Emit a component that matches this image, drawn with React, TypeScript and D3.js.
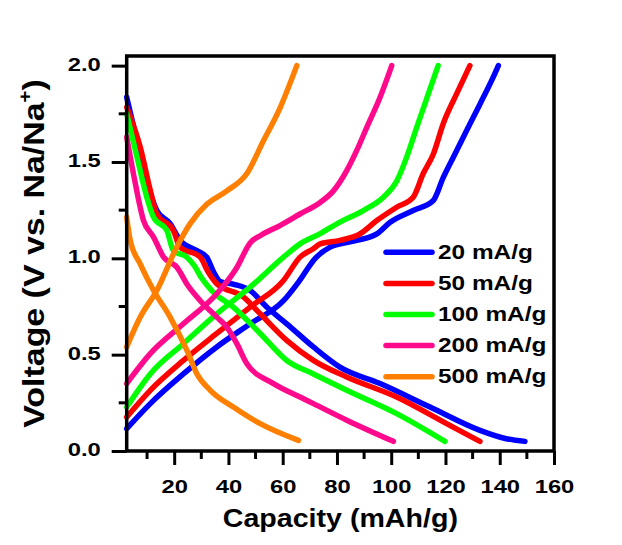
import { useEffect, useRef } from 'react';
import * as d3 from 'd3';

// capacity (mAh/g), voltage (V) pairs
const discharge20 = [[2.5, 1.836], [6.3, 1.61], [9.9, 1.4], [13.6, 1.248], [18.5, 1.18], [22.2, 1.093], [28.4, 1.04], [32, 1.006], [34.5, 0.93], [37, 0.88], [42, 0.865], [48, 0.833], [54.1, 0.747], [61.5, 0.66], [71.3, 0.54], [81.1, 0.435], [95.9, 0.35], [114.3, 0.228], [132.7, 0.107], [142, 0.065], [149.3, 0.05]];
const charge20 = [[2.5, 0.116], [11.2, 0.246], [23.4, 0.4], [35.7, 0.54], [48, 0.66], [60.3, 0.78], [66, 0.88], [72, 1.0], [77.5, 1.058], [87.3, 1.093], [94.7, 1.127], [99.6, 1.187], [108.1, 1.248], [115.5, 1.3], [119.2, 1.42], [122.9, 1.525], [127.8, 1.663], [132.7, 1.8], [137.6, 1.94], [139.5, 2.0]];

const discharge50 = [[2.5, 1.784], [7.5, 1.576], [11.2, 1.352], [13.6, 1.23], [19.7, 1.144], [22.2, 1.058], [29.6, 1.006], [32.5, 0.93], [35.7, 0.868], [45.5, 0.8], [51.7, 0.712], [61.5, 0.574], [71.3, 0.47], [83.6, 0.384], [102, 0.28], [120.4, 0.142], [132.7, 0.05]];
const charge50 = [[2.5, 0.176], [11.2, 0.315], [23.4, 0.47], [35.7, 0.61], [48, 0.747], [60.3, 0.885], [66.4, 1.006], [71.3, 1.05], [73.8, 1.075], [81.1, 1.093], [88.5, 1.127], [94.7, 1.196], [102, 1.265], [108.1, 1.317], [111.8, 1.44], [115.5, 1.54], [119.2, 1.7], [124.1, 1.853], [129, 2.0]];

const discharge100 = [[2.5, 1.75], [6.3, 1.525], [9.9, 1.317], [12.4, 1.213], [17.3, 1.144], [19.7, 1.04], [24.7, 1.006], [27.5, 0.96], [30, 0.9], [34, 0.83], [41.8, 0.747], [51.7, 0.61], [61.5, 0.47], [71.3, 0.4], [83.6, 0.315], [102, 0.194], [119.8, 0.05]];
const charge100 = [[2.5, 0.228], [11.2, 0.4], [23.4, 0.557], [35.7, 0.712], [48, 0.85], [60.3, 1.006], [66.4, 1.075], [73.8, 1.128], [81.1, 1.188], [89.7, 1.248], [97.1, 1.317], [102, 1.4], [105.7, 1.525], [109.4, 1.68], [117.3, 2.0]];

const discharge200 = [[2.5, 1.628], [5, 1.438], [8.7, 1.196], [12.4, 1.11], [16.1, 1.006], [21, 0.954], [25, 0.86], [29.6, 0.78], [35.7, 0.695], [39.4, 0.643], [43.1, 0.557], [46.8, 0.453], [56.6, 0.35], [66.4, 0.28], [71.3, 0.246], [83.6, 0.16], [100.8, 0.05]];
const charge200 = [[2.5, 0.35], [11.2, 0.505], [23.4, 0.66], [35.7, 0.816], [43, 0.95], [48, 1.08], [52, 1.12], [59, 1.17], [66.4, 1.23], [73.8, 1.29], [78.7, 1.35], [83.6, 1.455], [87.3, 1.56], [91, 1.68], [95.9, 1.836], [100.2, 2.0]];

const discharge500 = [[2.5, 1.213], [3.8, 1.093], [7.5, 0.97], [12.4, 0.833], [18.5, 0.695], [24.7, 0.522], [28.4, 0.4], [33.3, 0.315], [41.8, 0.228], [51.7, 0.142], [65.8, 0.055]];
const charge500 = [[2.5, 0.54], [7.5, 0.695], [13.6, 0.833], [21, 1.06], [25.9, 1.18], [32, 1.28], [39.4, 1.35], [46.8, 1.44], [52.9, 1.61], [59, 1.78], [65.2, 2.0]];

const rates = ['20 mA/g', '50 mA/g', '100 mA/g', '200 mA/g', '500 mA/g'];
const colors = ['#0000ff', '#ff0000', '#00ff00', '#ff0a8c', '#ff8000'];
const curves = [
  [discharge20, charge20],
  [discharge50, charge50],
  [discharge100, charge100],
  [discharge200, charge200],
  [discharge500, charge500],
];
const xTicks = [20, 40, 60, 80, 100, 120, 140, 160];
const xMinor = [10, 30, 50, 70, 90, 110, 130, 150];
const yTicks = [0, 0.5, 1.0, 1.5, 2.0];
const yMinor = [0.25, 0.75, 1.25, 1.75];

const FONT = '"Liberation Sans", Arial, sans-serif';

// stretch text horizontally to match the wide lettering of the figure
const stretch = (sel, k) => {
  sel.each(function () {
    const len = this.getComputedTextLength();
    d3.select(this).attr('textLength', len * k).attr('lengthAdjust', 'spacingAndGlyphs');
  });
};

const App = () => {
  const svgRef = useRef(null);

  useEffect(() => {
    const width = 622;
    const height = 545;
    const left = 126.7, right = 554, top = 56, bottom = 451;

    const svg = d3.select(svgRef.current)
      .attr('width', width)
      .attr('height', height)
      .style('position', 'absolute')
      .style('left', 0)
      .style('top', 0)
      .style('background-color', '#ffffff');

    svg.selectAll('*').remove();

    const x = d3.scaleLinear().domain([2.5, 160]).range([left, right]);
    const y = d3.scaleLinear().domain([0, 2.05]).range([bottom, top]);

    const line = d3.line()
      .x(d => x(d[0]))
      .y(d => y(d[1]))
      .curve(d3.curveMonotoneX);

    // curves
    curves.forEach((pair, i) => {
      pair.forEach(data => {
        svg.append('path')
          .attr('d', line(data))
          .attr('fill', 'none')
          .attr('stroke', colors[i])
          .attr('stroke-width', 5.5)
          .attr('stroke-linecap', 'round')
          .attr('stroke-linejoin', 'round');
      });
    });

    // Y axis
    const yAxis = svg.append('g')
      .attr('transform', `translate(${left},0)`)
      .call(d3.axisLeft(y).tickValues(yTicks).tickSize(15).tickPadding(11).tickFormat(d3.format('.1f')));
    yAxis.select('.domain').remove();
    yAxis.selectAll('line').attr('stroke', '#000').attr('stroke-width', 3);
    yAxis.selectAll('text')
      .attr('dy', 4.5)
      .style('font-family', FONT)
      .style('font-size', '19px')
      .style('font-weight', 'bold')
      .attr('fill', '#000');
    stretch(yAxis.selectAll('text'), 1.25);

    svg.append('g')
      .selectAll('line')
      .data(yMinor)
      .enter()
      .append('line')
      .attr('x1', left)
      .attr('x2', left - 8)
      .attr('y1', d => y(d))
      .attr('y2', d => y(d))
      .attr('stroke', '#000')
      .attr('stroke-width', 3);

    // X axis
    const xAxis = svg.append('g')
      .attr('transform', `translate(0,${bottom})`)
      .call(d3.axisBottom(x).tickValues(xTicks).tickSize(14).tickFormat(d3.format('d')));
    xAxis.select('.domain').remove();
    xAxis.selectAll('line').attr('stroke', '#000').attr('stroke-width', 3);
    xAxis.selectAll('text')
      .attr('y', 42)
      .attr('dy', null)
      .style('font-family', FONT)
      .style('font-size', '19px')
      .style('font-weight', 'bold')
      .attr('fill', '#000');
    stretch(xAxis.selectAll('text'), 1.25);

    svg.append('g')
      .selectAll('line')
      .data(xMinor)
      .enter()
      .append('line')
      .attr('x1', d => x(d))
      .attr('x2', d => x(d))
      .attr('y1', bottom)
      .attr('y2', bottom + 8)
      .attr('stroke', '#000')
      .attr('stroke-width', 3);

    // frame
    svg.append('rect')
      .attr('x', left)
      .attr('y', top)
      .attr('width', right - left)
      .attr('height', bottom - top)
      .attr('fill', 'none')
      .attr('stroke', '#000')
      .attr('stroke-width', 3.5);

    // legend
    const legend = svg.append('g');
    rates.forEach((r, i) => {
      const ly = 252.3 + i * 31.1;
      legend.append('line')
        .attr('x1', 386)
        .attr('x2', 432)
        .attr('y1', ly)
        .attr('y2', ly)
        .attr('stroke', colors[i])
        .attr('stroke-width', 5.5)
        .attr('stroke-linecap', 'round');
      legend.append('text')
        .attr('x', 438)
        .attr('y', ly + 6.5)
        .style('font-family', FONT)
        .style('font-size', '19.5px')
        .style('font-weight', 'bold')
        .attr('fill', '#000')
        .text(r);
    });
    stretch(legend.selectAll('text'), 1.25);

    // X-axis title
    const xTitle = svg.append('text')
      .attr('x', (left + right) / 2)
      .attr('y', 526.5)
      .attr('text-anchor', 'middle')
      .style('font-family', FONT)
      .style('font-size', '26px')
      .style('font-weight', 'bold')
      .text('Capacity (mAh/g)');
    stretch(xTitle, 1.1);

    // Y-axis title
    const yTitle = svg.append('text')
      .attr('text-anchor', 'middle')
      .attr('transform', `translate(43.5,${(top + bottom) / 2})rotate(-90)`)
      .style('font-family', FONT)
      .style('font-size', '30px')
      .style('font-weight', 'bold');
    yTitle.append('tspan').text('Voltage (V vs. Na/Na');
    yTitle.append('tspan').attr('dy', -13).style('font-size', '18px').text('+');
    yTitle.append('tspan').attr('dy', 13).text(')');
    stretch(yTitle, 1.13);
  }, []);

  return <svg ref={svgRef}></svg>;
};

export default App;
